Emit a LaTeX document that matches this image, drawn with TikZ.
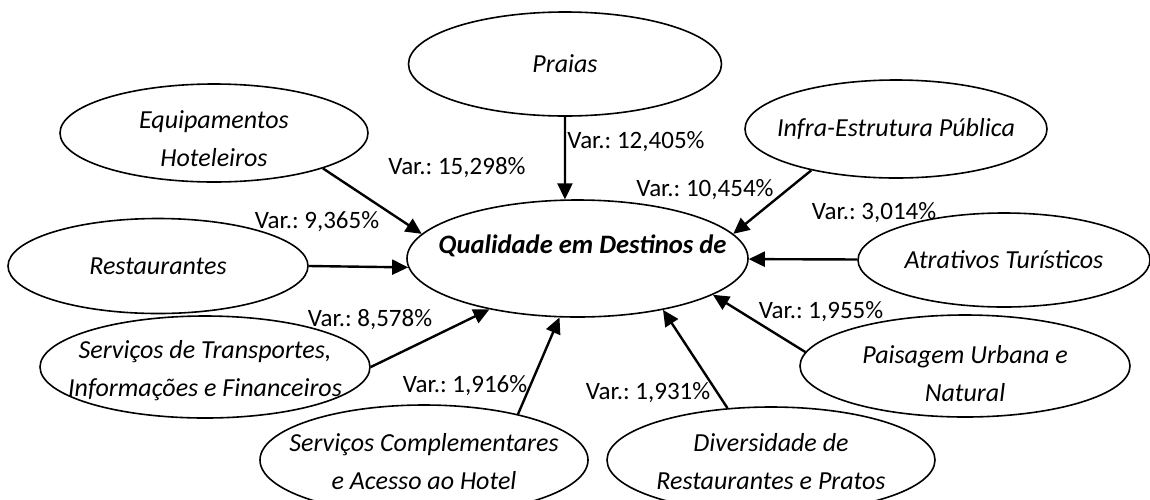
\documentclass[tikz,border=0pt]{standalone}
\usepackage{fontspec}
\setmainfont{Carlito}
\frenchspacing
\usetikzlibrary{shapes.geometric,arrows.meta}
\tikzset{
  factor/.style={draw, ellipse, line width=0.8pt, inner sep=0pt},
  factortext/.style={font=\itshape\fontsize{13}{19}\selectfont, align=center, inner sep=0pt},
  flow/.style={line width=1.2pt, -{Triangle[length=8pt,width=7.5pt]}},
  var/.style={font=\fontsize{12.5}{14}\selectfont, inner sep=0pt}
}
\begin{document}
\begin{tikzpicture}[x=0.5pt, y=-0.5pt]
\useasboundingbox (0,0) rectangle (1150,499);
\clip (0,0) rectangle (1150,499);
% centre
\node[factor, minimum width=170.5pt, minimum height=58.5pt,
  label={[factortext, name=qualtxt, font=\bfseries\itshape\fontsize{13.3}{19}\selectfont, xshift=2.5pt, yshift=6.25pt]center:Qualidade em Destinos de}] (qual) at (577.5,258.5) {};
% factors
\node[factor, minimum width=156.5pt, minimum height=52pt,
  label={[factortext, name=praiastxt]center:Praias}] (praias) at (565,64) {};
\node[factor, minimum width=154pt, minimum height=49pt,
  label={[factortext, name=equiptxt, yshift=-3pt]center:Equipamentos\\Hoteleiros}] (equip) at (214,133) {};
\node[factor, minimum width=151pt, minimum height=49pt,
  label={[factortext, name=infratxt]center:Infra-Estrutura Pública}] (infra) at (896,129) {};
\node[factor, minimum width=150pt, minimum height=47.5pt,
  label={[factortext, name=resttxt]center:Restaurantes}] (rest) at (158,266) {};
\node[factor, minimum width=146pt, minimum height=47pt,
  label={[factortext, name=atrtxt]center:Atrativos Turísticos}] (atr) at (1004,260) {};
\node[factor, minimum width=165pt, minimum height=51pt,
  label={[factortext, name=transptxt, yshift=-1.75pt]center:Serviços de Transportes,\\Informações e Financeiros}] (transp) at (205,367) {};
\node[factor, minimum width=165pt, minimum height=51pt,
  label={[factortext, name=paisagtxt, yshift=-4pt]center:Paisagem Urbana e\\Natural}] (paisag) at (965,366) {};
\node[factor, minimum width=164pt, minimum height=55pt,
  label={[factortext, name=compltxt, yshift=-1pt]center:Serviços Complementares\\e Acesso ao Hotel}] (compl) at (424,460) {};
\node[factor, minimum width=164pt, minimum height=53pt,
  label={[factortext, name=diverstxt, yshift=-1pt]center:Diversidade de\\Restaurantes e Pratos}] (divers) at (771,460) {};
% arrows
\draw[flow] (praias.south) -- (qual.102);
\draw[flow] (equip.-18) -- (qual.171);
\draw[flow] (rest.east) -- (qual.183);
\draw[flow] (infra.-154) -- (qual.9);
\draw[flow] (atr) -- (qual);
\draw[flow] (paisag.175) -- (qual.-15);
\draw[flow] (divers.130) -- (qual.-31);
\draw[flow] (compl.26) -- (qual.-107);
\draw[flow] (transp.east) -- (qual.-150);
% variances
\node[var] (v_equip) at (457,168) {Var.: 15,298\%};
\node[var] (v_praias) at (636,142) {Var.: 12,405\%};
\node[var] (v_infra) at (705,190) {Var.: 10,454\%};
\node[var] (v_rest) at (317,222) {Var.: 9,365\%};
\node[var] (v_atr) at (874,213) {Var.: 3,014\%};
\node[var] (v_paisag) at (821,312) {Var.: 1,955\%};
\node[var] (v_transp) at (370,320) {Var.: 8,578\%};
\node[var] (v_compl) at (465,386) {Var.: 1,916\%};
\node[var] (v_divers) at (648,393) {Var.: 1,931\%};
\end{tikzpicture}
\end{document}
